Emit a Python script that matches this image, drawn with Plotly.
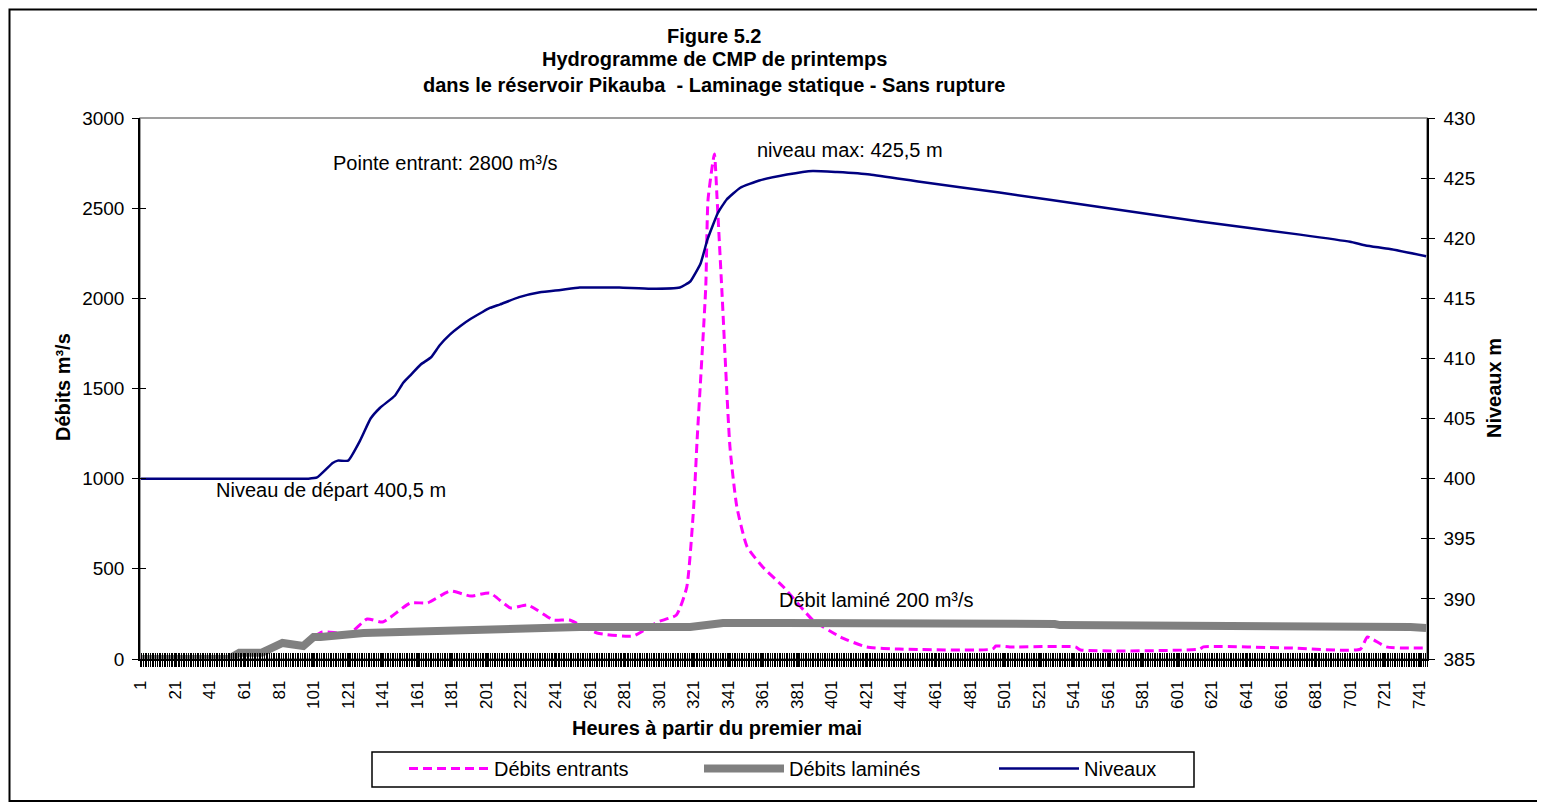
import plotly.graph_objects as go

# ---------------- data ----------------
# Débits entrants (m³/s) – hour / value
entrants_h = [1, 52, 58, 71, 83, 95, 101, 106, 122, 132, 141, 157, 167, 180, 192, 203, 215, 225, 240,
              249, 265, 286, 300, 311, 317, 321, 323, 328, 329.3, 333, 334.5, 337.4, 342, 346, 352,
              361, 373, 390, 406, 421, 440, 494, 496, 504, 542, 545, 614, 616, 666, 707, 711, 722, 745]
entrants_q = [0, 0, 35, 35, 89, 72, 122, 150, 144, 222, 205, 311, 311, 377, 349, 366, 283, 299, 216,
              216, 144, 128, 205, 244, 399, 843, 1215, 2063, 2546, 2800, 2562, 2030, 1176, 843, 621,
              510, 399, 216, 122, 67, 55, 55, 72, 67, 67, 50, 55, 67, 61, 55, 122, 67, 61]

# Débits laminés (m³/s)
lamines_h = [1, 52, 58, 71, 83, 95, 101, 105, 130, 168, 216, 255, 319, 338, 373, 431, 498, 530, 533,
             655, 658, 736, 745]
lamines_q = [0, 0, 35, 35, 89, 72, 122, 122, 144, 155, 172, 177, 177, 200, 200, 200, 194, 194, 188,
             188, 178, 178, 172]

# Niveaux (m)
niveaux_h = [1, 40, 80, 98, 103, 112, 115, 121, 128, 134, 139.5, 148, 153, 157, 163, 169, 174, 180, 186,
             192, 198, 203, 209, 220, 232, 244, 255, 267, 278, 296, 313, 319, 325, 329, 335, 340, 348,
             359, 375, 390, 404, 423, 452, 498, 556, 614, 672, 701, 710, 724, 745]
niveaux_m = [400.0, 400.0, 400.0, 400.0, 400.1, 401.3, 401.5, 401.5, 403.2, 405.0, 405.9, 406.9, 408.0,
             408.6, 409.5, 410.1, 411.1, 412.0, 412.7, 413.3, 413.8, 414.2, 414.5, 415.1, 415.5, 415.7,
             415.9, 415.9, 415.9, 415.8, 415.9, 416.4, 417.9, 419.9, 422.1, 423.2, 424.2, 424.8, 425.3,
             425.6, 425.5, 425.3, 424.7, 423.8, 422.6, 421.4, 420.3, 419.7, 419.4, 419.1, 418.5]

x_tick_vals = [1, 21, 41, 61, 81, 101, 121, 141, 161, 181, 201, 221, 241, 261, 281, 301, 321, 341,
               361, 381, 401, 421, 441, 461, 481, 501, 521, 541, 561, 581, 601, 621, 641, 661, 681,
               701, 721, 741]
x_tick_text = [str(v) for v in x_tick_vals]

title_lines = ["Figure 5.2",
               "Hydrogramme de CMP de printemps",
               "dans le réservoir Pikauba  - Laminage statique - Sans rupture"]

FONT = "Liberation Sans, Arial, sans-serif"

# plot area in page pixels: x 140..1427, y 118..659 (page has an 8px body margin)
PL, PW, PB, PH = 140, 1287, 659, 541


def px(x):
    return (x - PL) / PW


def py(y):
    return (PB - y) / PH


fig = go.Figure()
fig.add_trace(go.Scatter(x=entrants_h, y=entrants_q, name="Débits entrants", mode="lines",
                         line=dict(color="#FF00FF", width=3, dash="9px,5px", shape="spline",
                                   smoothing=0.5)))
fig.add_trace(go.Scatter(x=lamines_h, y=lamines_q, name="Débits laminés", mode="lines",
                         line=dict(color="#808080", width=8)))
fig.add_trace(go.Scatter(x=niveaux_h, y=niveaux_m, name="Niveaux", mode="lines", yaxis="y2",
                         line=dict(color="#000080", width=2.5, shape="spline", smoothing=0.4)))
# helper traces so the overlay axes (inner halves of the crossing tick marks) are drawn
fig.add_trace(go.Scatter(x=[None], y=[None], xaxis="x2", yaxis="y", showlegend=False, hoverinfo="skip"))
fig.add_trace(go.Scatter(x=[None], y=[None], xaxis="x", yaxis="y3", showlegend=False, hoverinfo="skip"))
fig.add_trace(go.Scatter(x=[None], y=[None], xaxis="x", yaxis="y4", showlegend=False, hoverinfo="skip"))

XR = [0.5, 745.5]
fig.update_layout(
    width=1537, height=796,
    margin=dict(l=132, r=118, t=110, b=145),
    paper_bgcolor="white", plot_bgcolor="white",
    font=dict(family=FONT, size=19, color="black"),
    showlegend=True,
    legend=dict(orientation="h", x=px(404), y=py(749), xanchor="left", yanchor="top",
                borderwidth=0, bgcolor="rgba(0,0,0,0)", font=dict(size=20),
                itemwidth=80, entrywidth=200, traceorder="normal"),
    xaxis=dict(range=XR, tickmode="array", tickvals=x_tick_vals, ticktext=x_tick_text,
               tickangle=-90, tickfont=dict(size=17), ticks="outside", ticklen=6,
               tickcolor="black", showline=True, linecolor="black", linewidth=1.5,
               showgrid=False, zeroline=False, ticklabelstandoff=7,
               minor=dict(tickmode="linear", tick0=0.5, dtick=1, ticks="outside", ticklen=6,
                          tickcolor="black", tickwidth=1, showgrid=False)),
    xaxis2=dict(range=XR, overlaying="x", side="bottom", showticklabels=False, showline=False,
                showgrid=False, zeroline=False, tickmode="array", tickvals=x_tick_vals,
                ticks="inside", ticklen=6, tickcolor="black",
                minor=dict(tickmode="linear", tick0=0.5, dtick=1, ticks="inside", ticklen=6,
                           tickcolor="black", tickwidth=1, showgrid=False)),
    yaxis=dict(range=[0, 3000], dtick=500, ticks="outside", ticklen=6, tickcolor="black",
               showline=True, linecolor="black", linewidth=1.5, showgrid=False, zeroline=False,
               tickfont=dict(size=19), ticklabelstandoff=4),
    yaxis3=dict(range=[0, 3000], dtick=500, overlaying="y", side="left", ticks="inside",
                ticklen=6, tickcolor="black", showticklabels=False, showline=False,
                showgrid=False, zeroline=False),
    yaxis2=dict(range=[385, 430], dtick=5, overlaying="y", side="right", ticks="outside",
                ticklen=6, tickcolor="black", showline=True, linecolor="black", linewidth=1.5,
                showgrid=False, zeroline=False, tickfont=dict(size=19), ticklabelstandoff=5),
    yaxis4=dict(range=[385, 430], dtick=5, overlaying="y", side="right", ticks="inside",
                ticklen=6, tickcolor="black", showticklabels=False, showline=False,
                showgrid=False, zeroline=False),
)

ann = []
for txt, ypx in zip(title_lines, [36, 59, 85]):
    ann.append(dict(text="<b>%s</b>" % txt, xref="paper", yref="paper",
                    x=px(714), y=py(ypx), xanchor="center", yanchor="middle",
                    showarrow=False, font=dict(size=20, family=FONT)))
ann.append(dict(text="<b>Heures à partir du premier mai</b>", xref="paper", yref="paper",
                x=px(717), y=py(728), xanchor="center", yanchor="middle",
                showarrow=False, font=dict(size=20)))
ann.append(dict(text="<b>Débits m³/s</b>", xref="paper", yref="paper", textangle=-90,
                x=px(63), y=py(387), xanchor="center", yanchor="middle",
                showarrow=False, font=dict(size=20)))
ann.append(dict(text="<b>Niveaux m</b>", xref="paper", yref="paper", textangle=-90,
                x=px(1494), y=py(388), xanchor="center", yanchor="middle",
                showarrow=False, font=dict(size=20)))
for txt, xp, yp in [("Pointe entrant: 2800 m³/s", 331, 163),
                    ("niveau max: 425,5 m", 755, 150),
                    ("Niveau de départ 400,5 m", 214, 490),
                    ("Débit laminé 200 m³/s", 777, 600)]:
    ann.append(dict(text=txt, xref="paper", yref="paper", x=px(xp), y=py(yp),
                    xanchor="left", yanchor="middle", showarrow=False, font=dict(size=20)))
fig.update_layout(annotations=ann)

fig.update_layout(shapes=[
    dict(type="rect", xref="paper", yref="paper", x0=0, x1=1, y0=0, y1=1,
         line=dict(color="#808080", width=1.5), layer="below"),
    # outer chart frame
    dict(type="rect", xref="paper", yref="paper", x0=px(9.5), x1=px(1542), y0=py(801), y1=py(9.5),
         line=dict(color="black", width=2)),
    # legend frame
    dict(type="rect", xref="paper", yref="paper", x0=px(372), x1=px(1194), y0=py(787), y1=py(752),
         line=dict(color="black", width=1.5)),
])

fig.write_html("out.html")
